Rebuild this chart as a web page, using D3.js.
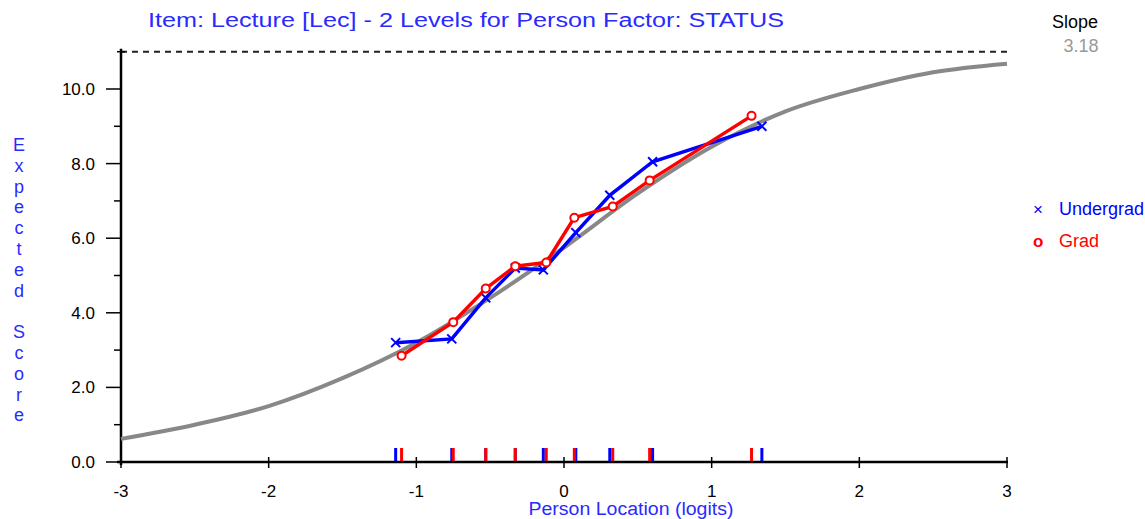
<!DOCTYPE html>
<html>
<head>
<meta charset="utf-8">
<script src="https://cdn.jsdelivr.net/npm/d3@7"></script>
<style>
  body { margin: 0; background: #fff; }
  svg { display: block; font-family: "Liberation Sans", Arial, sans-serif; }
</style>
</head>
<body>
<div id="chart"></div>
<script>
// expected value curve
var curveLoc = [-3, -2.5, -2, -1.5, -1, -0.5, 0, 0.5, 1, 1.5, 2, 2.5, 3];
var curveScore = [0.62, 1.0, 1.5, 2.25, 3.2, 4.4, 5.75, 7.2, 8.45, 9.4, 10.0, 10.45, 10.68];

// class interval means per group
var underLoc = [-1.14, -0.76, -0.53, -0.33, -0.14, 0.08, 0.31, 0.60, 1.34];
var underScore = [3.2, 3.3, 4.4, 5.2, 5.15, 6.15, 7.15, 8.05, 9.0];
var gradLoc = [-1.10, -0.75, -0.53, -0.33, -0.12, 0.07, 0.33, 0.58, 1.27];
var gradScore = [2.85, 3.75, 4.65, 5.25, 5.35, 6.55, 6.85, 7.55, 9.28];

var xTicks = [-3, -2, -1, 0, 1, 2, 3];
var yMajor = [0, 2, 4, 6, 8, 10];
var yMinor = [1, 3, 5, 7, 9];
var maxScore = 11;
var slope = "3.18";
var yLabel = "Expected Score";

var W = 1145, H = 519;
var blue = "#0000ff", red = "#ff0000", textBlue = "#2a2aff";

var svg = d3.select("#chart").append("svg").attr("width", W).attr("height", H);

var x = d3.scaleLinear().domain([-3, 3]).range([121, 1007]);
var y = d3.scaleLinear().domain([0, 10]).range([462, 89]);

function pts(xs, ys) {
    return xs.map(function(v, i) { return { x: v, y: ys[i] }; });
}

// dashed max score line
svg.append("line")
    .attr("x1", x(-3)).attr("x2", x(3))
    .attr("y1", y(maxScore)).attr("y2", y(maxScore))
    .attr("stroke", "#222").attr("stroke-width", 2)
    .attr("stroke-dasharray", "6,5");

// axes
var xAxis = svg.append("g");
xAxis.append("line")
    .attr("x1", x(-3) - 4).attr("x2", x(3) + 1)
    .attr("y1", y(0)).attr("y2", y(0))
    .attr("stroke", "#000").attr("stroke-width", 2.5);
xAxis.selectAll(".xt").data(xTicks).enter().append("line")
    .attr("class", "xt")
    .attr("x1", function(d) { return x(d); }).attr("x2", function(d) { return x(d); })
    .attr("y1", y(0) - 5).attr("y2", y(0) + 6)
    .attr("stroke", "#000").attr("stroke-width", 1.5);
xAxis.selectAll(".xl").data(xTicks).enter().append("text")
    .attr("class", "xl")
    .attr("x", function(d) { return x(d); })
    .attr("y", 497)
    .attr("text-anchor", "middle")
    .attr("font-size", 17)
    .text(function(d) { return d; });

var yAxis = svg.append("g");
yAxis.append("line")
    .attr("x1", x(-3)).attr("x2", x(-3))
    .attr("y1", y(maxScore) - 3).attr("y2", y(0) + 3)
    .attr("stroke", "#000").attr("stroke-width", 2.5);
yAxis.append("line")
    .attr("x1", x(-3) - 4).attr("x2", x(-3) + 4)
    .attr("y1", y(maxScore)).attr("y2", y(maxScore))
    .attr("stroke", "#000").attr("stroke-width", 1.5);
yAxis.selectAll(".ymaj").data(yMajor).enter().append("line")
    .attr("class", "ymaj")
    .attr("x1", x(-3) - 15).attr("x2", x(-3))
    .attr("y1", function(d) { return y(d); }).attr("y2", function(d) { return y(d); })
    .attr("stroke", "#000").attr("stroke-width", 1.5);
yAxis.selectAll(".ymin").data(yMinor).enter().append("line")
    .attr("class", "ymin")
    .attr("x1", x(-3) - 7).attr("x2", x(-3))
    .attr("y1", function(d) { return y(d); }).attr("y2", function(d) { return y(d); })
    .attr("stroke", "#000").attr("stroke-width", 1.5);
yAxis.selectAll(".yl").data(yMajor).enter().append("text")
    .attr("class", "yl")
    .attr("x", 95)
    .attr("y", function(d) { return y(d) + 6; })
    .attr("text-anchor", "end")
    .attr("font-size", 17)
    .text(function(d) { return d.toFixed(1); });

// expected value curve
var line = d3.line()
    .x(function(d) { return x(d.x); })
    .y(function(d) { return y(d.y); });

svg.append("path")
    .datum(pts(curveLoc, curveScore))
    .attr("fill", "none")
    .attr("stroke", "#888")
    .attr("stroke-width", 4)
    .attr("d", line.curve(d3.curveMonotoneX));

line.curve(d3.curveLinear);

// group lines
function drawGroup(xs, ys, color, mark) {
    var data = pts(xs, ys);
    var g = svg.append("g");
    g.append("path")
        .datum(data)
        .attr("fill", "none")
        .attr("stroke", color)
        .attr("stroke-width", 3.5)
        .attr("d", line);
    if (mark === "x") {
        g.selectAll("path.m").data(data).enter().append("path")
            .attr("class", "m")
            .attr("d", function(d) {
                var cx = x(d.x), cy = y(d.y), r = 4.5;
                return "M" + (cx - r) + "," + (cy - r) + "L" + (cx + r) + "," + (cy + r) +
                       "M" + (cx - r) + "," + (cy + r) + "L" + (cx + r) + "," + (cy - r);
            })
            .attr("stroke", color).attr("stroke-width", 2);
    } else {
        g.selectAll("circle").data(data).enter().append("circle")
            .attr("cx", function(d) { return x(d.x); })
            .attr("cy", function(d) { return y(d.y); })
            .attr("r", 4)
            .attr("fill", "#fff")
            .attr("stroke", color).attr("stroke-width", 2);
    }
    // location ticks on the x axis
    g.selectAll("line.loc").data(xs).enter().append("line")
        .attr("class", "loc")
        .attr("x1", function(d) { return x(d); }).attr("x2", function(d) { return x(d); })
        .attr("y1", y(0) - 14).attr("y2", y(0) - 1)
        .attr("stroke", color).attr("stroke-width", 3);
}

drawGroup(underLoc, underScore, blue, "x");
drawGroup(gradLoc, gradScore, red, "o");

// titles
svg.append("text")
    .attr("x", 466).attr("y", 27)
    .attr("text-anchor", "middle")
    .attr("font-size", 20)
    .attr("fill", textBlue)
    .attr("textLength", 636)
    .attr("lengthAdjust", "spacingAndGlyphs")
    .text("Item: Lecture [Lec] - 2 Levels for Person Factor: STATUS");

svg.append("text")
    .attr("x", 631).attr("y", 515)
    .attr("text-anchor", "middle")
    .attr("font-size", 18)
    .attr("fill", textBlue)
    .attr("textLength", 205)
    .attr("lengthAdjust", "spacingAndGlyphs")
    .text("Person Location (logits)");

svg.append("g").selectAll("text")
    .data(yLabel.split(""))
    .enter().append("text")
    .attr("x", 19)
    .attr("y", function(d, i) { return 151 + i * 20.8; })
    .attr("text-anchor", "middle")
    .attr("font-size", 18)
    .attr("fill", textBlue)
    .text(function(d) { return d; });

svg.append("text")
    .attr("x", 1075).attr("y", 28)
    .attr("text-anchor", "middle")
    .attr("font-size", 18)
    .attr("fill", "#000")
    .text("Slope");
svg.append("text")
    .attr("x", 1081).attr("y", 52)
    .attr("text-anchor", "middle")
    .attr("font-size", 18)
    .attr("fill", "#999")
    .text(slope);

// legend
var legend = [
    { sym: "\u00d7", name: "Undergrad", color: blue, weight: "normal" },
    { sym: "o", name: "Grad", color: red, weight: "bold" }
];
var lg = svg.append("g").selectAll("g").data(legend).enter().append("g")
    .attr("transform", function(d, i) { return "translate(1033," + (215 + i * 32) + ")"; });
lg.append("text")
    .attr("x", 0).attr("font-size", 17)
    .attr("font-weight", function(d) { return d.weight; })
    .attr("fill", function(d) { return d.color; })
    .text(function(d) { return d.sym; });
lg.append("text")
    .attr("x", 26).attr("font-size", 18)
    .attr("fill", function(d) { return d.color; })
    .text(function(d) { return d.name; });
</script>
</body>
</html>
